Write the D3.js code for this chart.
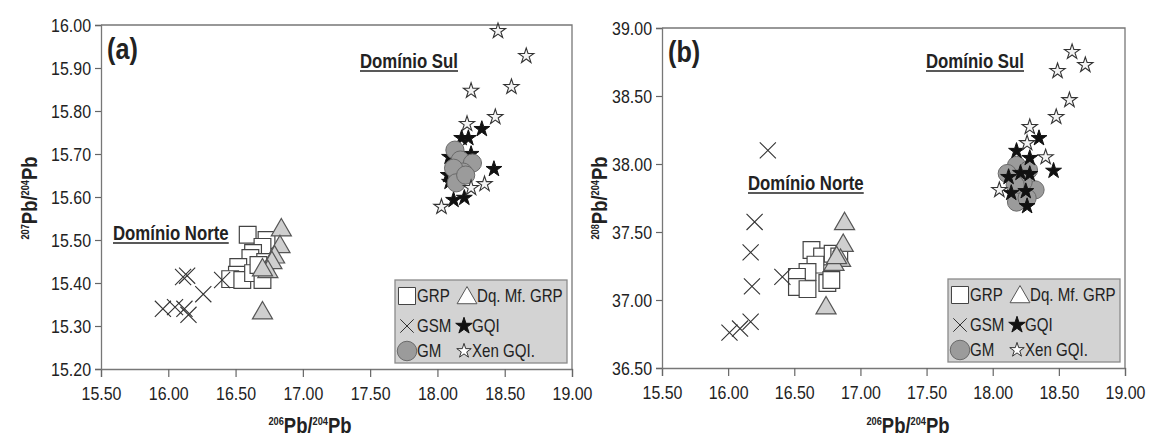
<!DOCTYPE html>
<html>
<head>
<meta charset="utf-8">
<script src="https://cdn.jsdelivr.net/npm/d3@7"></script>
<style>
  body { margin: 0; background: #fff; }
  svg { display: block; }
  text { font-family: "Liberation Sans", Arial, sans-serif; fill: #222; }
</style>
</head>
<body>
<svg id="chart" width="1150" height="436"></svg>
<script>
// tick labels
const xTicks = [15.5, 16, 16.5, 17, 17.5, 18, 18.5, 19];
const yTicksA = [15.2, 15.3, 15.4, 15.5, 15.6, 15.7, 15.8, 15.9, 16.0];
const yTicksB = [36.5, 37, 37.5, 38, 38.5, 39];

// panel (a): 206Pb/204Pb vs 207Pb/204Pb
const grpA = [[16.59,15.512],[16.73,15.500],[16.70,15.484],[16.63,15.470],[16.61,15.458],[16.52,15.437],
  [16.51,15.419],[16.46,15.409],[16.55,15.407],[16.63,15.423],[16.70,15.407],[16.72,15.449],[16.67,15.442]];
const dqA = [[16.84,15.523],[16.83,15.484],[16.79,15.460],[16.77,15.447],[16.74,15.426],[16.70,15.430],[16.70,15.330]];
const gsmA = [[15.96,15.340],[16.05,15.344],[16.12,15.340],[16.15,15.326],[16.11,15.414],[16.14,15.417],[16.26,15.374],[16.40,15.407]];
const gqiA = [[18.33,15.758],[18.18,15.737],[18.23,15.737],[18.25,15.700],[18.09,15.693],[18.42,15.665],
  [18.08,15.651],[18.09,15.635],[18.12,15.593],[18.20,15.598]];
const gmA = [[18.13,15.709],[18.17,15.686],[18.26,15.679],[18.19,15.658],[18.15,15.647],[18.12,15.667],[18.14,15.633],[18.21,15.651]];
const xenA = [[18.45,15.986],[18.66,15.928],[18.25,15.847],[18.55,15.856],[18.43,15.786],[18.22,15.770],
  [18.35,15.630],[18.25,15.621],[18.03,15.577]];

// panel (b): 206Pb/204Pb vs 208Pb/204Pb
const grpB = [[16.63,37.368],[16.71,37.32],[16.79,37.34],[16.84,37.32],[16.66,37.26],[16.60,37.206],
  [16.52,37.17],[16.52,37.096],[16.60,37.08],[16.75,37.125],[16.78,37.147]];
const dqB = [[16.88,37.56],[16.87,37.40],[16.85,37.29],[16.80,37.26],[16.82,37.31],[16.74,36.94]];
const gsmB = [[16.30,38.10],[16.20,37.574],[16.17,37.35],[16.18,37.10],[16.41,37.17],[16.17,36.84],[16.09,36.79],[16.01,36.76]];
const gmB = [[18.18,37.99],[18.11,37.93],[18.27,37.956],[18.32,37.81],[18.23,37.868],[18.17,37.846],[18.18,37.72],[18.26,37.75]];
const gqiB = [[18.35,38.19],[18.18,38.096],[18.28,38.044],[18.46,37.95],[18.21,37.934],[18.28,37.926],
  [18.12,37.904],[18.25,37.80],[18.14,37.787],[18.26,37.69]];
const xenB = [[18.60,38.824],[18.70,38.728],[18.49,38.684],[18.58,38.47],[18.48,38.346],[18.28,38.272],
  [18.26,38.154],[18.40,38.05],[18.05,37.809]];

const svg = d3.select("#chart");
const SQUEEZE = 0.84; // the original uses a narrow typeface

// squeeze a text horizontally around its anchor point
function narrow(sel, extra) {
  sel.each(function () {
    const t = d3.select(this);
    const x = +t.attr("x") || 0, y = +t.attr("y") || 0;
    t.attr("x", 0).attr("y", 0)
      .attr("transform", `translate(${x},${y})${extra || ""} scale(${SQUEEZE},1)`);
  });
}

// X shaped marker, drawn as two strokes
const symbolX = {
  draw(ctx, size) {
    const r = Math.sqrt(size) / 2;
    ctx.moveTo(-r, -r); ctx.lineTo(r, r);
    ctx.moveTo(r, -r); ctx.lineTo(-r, r);
  }
};

const styles = {
  grp: { type: d3.symbolSquare, size: 280, fill: "#fff", stroke: "#444", sw: 1.2 },
  dq: { type: d3.symbolTriangle, size: 175, fill: "#cfcfcf", stroke: "#555", sw: 1.2 },
  gsm: { type: symbolX, size: 260, fill: "none", stroke: "#333", sw: 1.1 },
  gm: { type: d3.symbolCircle, size: 260, fill: "#9b9b9b", stroke: "#6a6a6a", sw: 1 },
  gqi: { type: d3.symbolStar, size: 78, fill: "#111", stroke: "#111", sw: 1 },
  xen: { type: d3.symbolStar, size: 72, fill: "#f4f4f4", stroke: "#333", sw: 1.1 }
};

function drawPanel(cfg) {
  const x = d3.scaleLinear().domain([15.5, 19]).range(cfg.xr);
  const y = d3.scaleLinear().domain(cfg.yd).range(cfg.yr);
  const g = svg.append("g");

  // top + right frame
  g.append("path")
    .attr("d", `M${cfg.xr[0]},${cfg.yr[1]}H${cfg.xr[1]}V${cfg.yr[0]}`)
    .attr("fill", "none").attr("stroke", "#777").attr("stroke-width", 1.3);

  const xAxis = g.append("g").attr("transform", `translate(0,${cfg.yr[0]})`)
    .call(d3.axisBottom(x).tickValues(xTicks).tickFormat(d3.format(".2f")).tickSize(8).tickPadding(9));
  const yAxis = g.append("g").attr("transform", `translate(${cfg.xr[0]},0)`)
    .call(d3.axisLeft(y).tickValues(cfg.yTicks).tickFormat(d3.format(".2f")).tickSize(6).tickPadding(4));
  [xAxis, yAxis].forEach(a => {
    a.select(".domain").attr("stroke", "#777").attr("stroke-width", 1.3);
    a.selectAll(".tick line").attr("stroke", "#666").attr("stroke-width", 1.2);
    a.selectAll(".tick text").style("font-size", "19px").attr("fill", "#222");
  });
  yAxis.selectAll(".tick text").attr("dy", "0.36em");
  narrow(xAxis.selectAll(".tick text"));
  narrow(yAxis.selectAll(".tick text"));

  // points
  cfg.series.forEach(([key, data]) => {
    const s = styles[key];
    g.append("g").selectAll("path").data(data).enter().append("path")
      .attr("transform", d => `translate(${x(d[0])},${y(d[1])})`)
      .attr("d", d3.symbol(s.type, s.size))
      .attr("fill", s.fill).attr("stroke", s.stroke).attr("stroke-width", s.sw);
  });

  // panel label
  narrow(g.append("text").attr("x", cfg.xr[0] + 6).attr("y", cfg.yr[1] + 34)
    .style("font-size", "30px").style("font-weight", "bold").text(cfg.label));

  // domain labels (underlined)
  cfg.notes.forEach(n => {
    const t = g.append("text").attr("x", n[0]).attr("y", n[1])
      .style("font-size", "20px").style("font-weight", "bold").text(n[2]);
    const w = t.node().getComputedTextLength() * SQUEEZE;
    narrow(t);
    g.append("line").attr("x1", n[0]).attr("x2", n[0] + w)
      .attr("y1", n[1] + 3).attr("y2", n[1] + 3).attr("stroke", "#222").attr("stroke-width", 1.5);
  });

  // axis titles
  const xt = g.append("text").attr("x", cfg.xTitle[0]).attr("y", cfg.xTitle[1])
    .attr("text-anchor", "middle").style("font-size", "22px").style("font-weight", "bold");
  xt.append("tspan").style("font-size", "11px").attr("dy", "-8").text("206");
  xt.append("tspan").attr("dy", "8").text("Pb/");
  xt.append("tspan").style("font-size", "11px").attr("dy", "-8").text("204");
  xt.append("tspan").attr("dy", "8").text("Pb");
  narrow(xt);

  const yt = g.append("text").attr("x", cfg.yTitle[0]).attr("y", cfg.yTitle[1])
    .attr("text-anchor", "middle").style("font-size", "22px").style("font-weight", "bold");
  yt.append("tspan").style("font-size", "11px").attr("dy", "-8").text(cfg.yIso);
  yt.append("tspan").attr("dy", "8").text("Pb/");
  yt.append("tspan").style("font-size", "11px").attr("dy", "-8").text("204");
  yt.append("tspan").attr("dy", "8").text("Pb");
  narrow(yt, " rotate(-90)");

  // legend
  const lx = cfg.xr[1] - cfg.legW - 5, ly = cfg.yr[0] - 89;
  const lg = g.append("g").attr("transform", `translate(${lx},${ly})`);
  lg.append("rect").attr("width", cfg.legW).attr("height", 83)
    .attr("fill", "#d3d3d3").attr("stroke", "#8a8a8a").attr("stroke-width", 1.3);
  const items = [
    ["grp", "GRP", 12, 16, 290, "#fff"], ["dq", "Dq. Mf. GRP", 72, 16, 170, "#fff"],
    ["gsm", "GSM", 12, 46, 180, "none"], ["gqi", "GQI", 69, 46, 85, "#111"],
    ["gm", "GM", 12, 71, 300, "#9b9b9b"], ["xen", "Xen GQI.", 69, 71, 65, "#fff"]
  ];
  items.forEach(([key, label, cx, cy, sz, fill]) => {
    const s = styles[key];
    lg.append("path").attr("transform", `translate(${cx},${cy + (key === "dq" ? 2 : 0)})`)
      .attr("d", d3.symbol(s.type, sz))
      .attr("fill", fill).attr("stroke", s.stroke).attr("stroke-width", 1);
    narrow(lg.append("text").attr("x", cx + (key === "gqi" || key === "xen" ? 8 : 10)).attr("y", cy)
      .attr("dy", "0.36em").style("font-size", "18px").text(label));
  });
}

drawPanel({
  xr: [101, 572], yr: [369, 25], yd: [15.2, 16.0], yTicks: yTicksA, label: "(a)",
  series: [["grp", grpA], ["dq", dqA], ["gsm", gsmA], ["gqi", gqiA], ["gm", gmA], ["xen", xenA]],
  notes: [[113, 240, "Domínio Norte"], [360, 68, "Domínio Sul"]],
  xTitle: [310, 433], yTitle: [37, 198], yIso: "207", legW: 172
});

drawPanel({
  xr: [662, 1125], yr: [368, 28], yd: [36.5, 39.0], yTicks: yTicksB, label: "(b)",
  series: [["grp", grpB], ["dq", dqB], ["gsm", gsmB], ["gm", gmB], ["gqi", gqiB], ["xen", xenB]],
  notes: [[748, 190, "Domínio Norte"], [926, 68, "Domínio Sul"]],
  xTitle: [908, 433], yTitle: [607, 198], yIso: "208", legW: 172
});
</script>
</body>
</html>
